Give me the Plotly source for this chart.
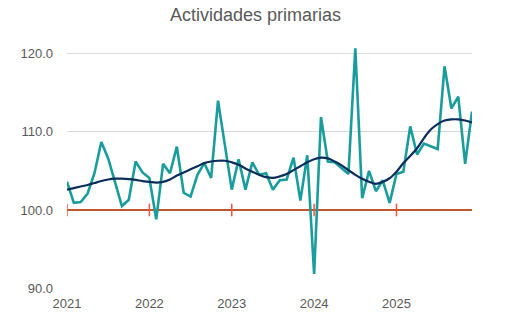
import plotly.graph_objects as go

title_text = "Actividades primarias"
year_labels = ["2021", "2022", "2023", "2024", "2025"]
months = list(range(60))  # Jan 2021 .. Dec 2025
year_start_idx = [0, 12, 24, 36, 48]

actividades = [
    103.6, 100.9, 101.0, 102.1, 104.7, 108.7, 106.6, 103.4, 100.5, 101.3, 106.2, 104.8,
    104.1, 98.8, 105.9, 104.7, 108.1, 102.2, 101.7, 104.5, 106.0, 104.1, 114.0, 108.3,
    102.6, 106.5, 102.6, 106.1, 104.5, 104.7, 102.6, 103.8, 103.9, 106.7, 101.2, 107.0,
    91.8, 111.9, 106.2, 106.1, 105.4, 104.6, 120.7, 101.5, 105.0, 102.4, 103.8, 100.9,
    104.6, 104.9, 110.7, 107.1, 108.5, 108.1, 107.8, 118.4, 113.0, 114.5, 105.9, 112.6,
]

tendencia = [
    102.6, 102.8, 103.0, 103.2, 103.45, 103.7, 103.9, 104.0, 104.0, 103.95, 103.85, 103.7,
    103.6, 103.5, 103.6, 103.9, 104.4, 104.8, 105.2, 105.6, 106.0, 106.2, 106.3, 106.3,
    106.1, 105.8, 105.3, 104.9, 104.5, 104.2, 104.1, 104.3, 104.6, 105.1, 105.6, 106.1,
    106.5, 106.7, 106.6, 106.2, 105.7, 105.1, 104.5, 104.0, 103.6, 103.35, 103.6, 104.06,
    104.9, 106.0, 106.9, 107.9, 109.2, 110.3, 111.0, 111.45, 111.6, 111.6, 111.45, 111.2,
]

base_value = 100.0
y_ticks = [90, 100, 110, 120]

teal = "#1A9C9C"
navy = "#0B2D5B"
red = "#C0562F"
gray_text = "#595959"

fig = go.Figure()

# baseline at 100
fig.add_trace(go.Scatter(
    x=months, y=[base_value] * len(months), mode="lines",
    line=dict(color=red, width=2), hoverinfo="skip", showlegend=False,
))
fig.add_trace(go.Scatter(
    x=year_start_idx, y=[base_value] * len(year_start_idx), mode="markers",
    marker=dict(symbol="line-ns-open", size=9, line=dict(color=red, width=1.5)),
    hoverinfo="skip", showlegend=False,
))

fig.add_trace(go.Scatter(
    x=months, y=actividades, mode="lines",
    line=dict(color=teal, width=2.6), showlegend=False,
))
fig.add_trace(go.Scatter(
    x=months, y=tendencia, mode="lines",
    line=dict(color=navy, width=2.2, shape="spline", smoothing=1.0), showlegend=False,
))

fig.update_layout(
    width=518, height=325,
    margin=dict(l=67, r=46, t=46, b=37),
    paper_bgcolor="white", plot_bgcolor="white",
    font=dict(family="Liberation Sans, Arial, sans-serif", color=gray_text, size=13),
    title=dict(text=title_text, x=255.5 / 518, xref="container", xanchor="center",
               y=1 - 15 / 325, yref="container", yanchor="middle",
               font=dict(size=18, color=gray_text)),
    xaxis=dict(
        range=[0, 59], tickmode="array", tickvals=year_start_idx, ticktext=year_labels,
        showgrid=False, zeroline=False, showline=False, ticks="",
        ticklabelstandoff=6,
        tickfont=dict(size=13, color=gray_text),
    ),
    yaxis=dict(
        range=[90, 121], tickmode="array", tickvals=y_ticks,
        ticktext=[f"{v:.1f}" for v in y_ticks],
        showgrid=True, gridcolor="#D9D9D9", gridwidth=1,
        zeroline=False, showline=False, ticks="", ticklabelstandoff=13,
        tickfont=dict(size=13, color=gray_text),
    ),
)

fig.write_html("out.html")
